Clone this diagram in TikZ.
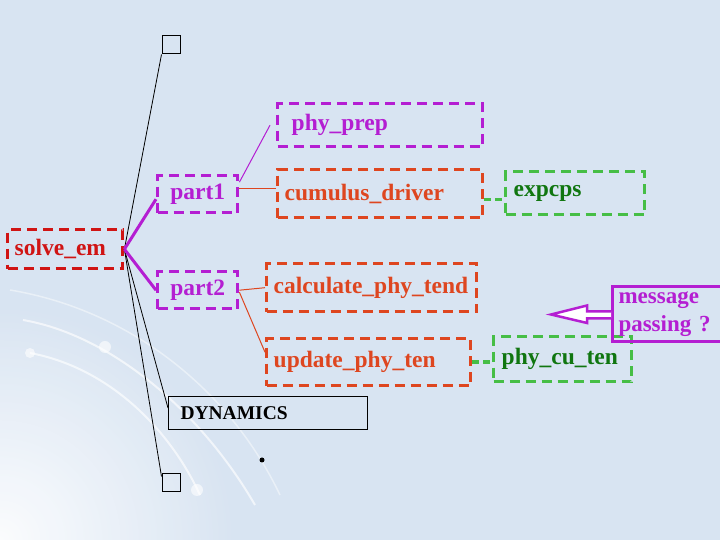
\documentclass[tikz,border=0pt]{standalone}
\usepackage{fontspec}
\setmainfont{Liberation Serif}
\definecolor{bg}{RGB}{216,228,242}
\definecolor{mag}{RGB}{180,30,210}
\definecolor{org}{RGB}{222,70,32}
\definecolor{rd}{RGB}{208,20,20}
\definecolor{grn}{RGB}{70,190,70}
\definecolor{dgrn}{RGB}{16,118,16}
\begin{document}
\begin{tikzpicture}[x=1pt,y=1pt,
  bx/.style={draw, line width=3.4pt, dash pattern=on 10pt off 6pt, anchor=north west,
    align=left, inner ysep=0pt, font=\bfseries\fontsize{23.5}{28}\selectfont},
  sq/.style={draw=black, line width=1pt, minimum size=18pt, inner sep=0pt},
  blk/.style={draw=black, line width=0.8pt},
  thinmag/.style={draw=mag, line width=1pt},
  thinorg/.style={draw=org, line width=1pt},
  thickmag/.style={draw=mag, line width=3pt},
  grnlink/.style={draw=grn, line width=3.4pt, dash pattern=on 7pt off 4pt},
  swirl/.style={draw=white, line width=2pt, opacity=0.65}
]
\fill[bg] (0,0) rectangle (720,540);
\useasboundingbox (0,0) rectangle (720,540);
% background decoration
\begin{scope}
\clip (0,0) rectangle (720,540);
\shade[inner color=white, outer color=bg, opacity=0.9] (0,0) circle (240);
\end{scope}
\draw[swirl] (23,220) .. controls (110,205) and (200,130) .. (255,35);
\draw[swirl] (30,187) .. controls (110,172) and (170,110) .. (200,45);
\draw[swirl, opacity=0.45, line width=1.5pt] (10,250) .. controls (130,230) and (230,150) .. (280,45);
\fill[white, opacity=0.6] (105,193) circle (6);
\fill[white, opacity=0.6] (30,187) circle (5);
\fill[white, opacity=0.6] (197,50) circle (6);

% nodes
\node[bx, draw=rd, text=rd, minimum height=39pt, text width=101pt, inner xsep=7pt] (solve) at (6,312) {solve\_em};
\node[bx, draw=mag, text=mag, minimum height=37pt, text width=72pt, inner xsep=4pt, align=center] (part1) at (156,366) {part1};
\node[bx, draw=mag, text=mag, minimum height=37pt, text width=72pt, inner xsep=4pt, align=center] (part2) at (156,270) {part2};
\node[bx, draw=mag, text=mag, minimum height=43pt, text width=177pt, inner xsep=14pt] (phyprep) at (276,438) {phy\_prep};
\node[bx, draw=org, text=org, minimum height=48pt, text width=191pt, inner xsep=7pt] (cumulus) at (276,372) {cumulus\_driver};
\node[bx, draw=org, text=org, minimum height=48pt, text width=196pt, inner xsep=7pt] (calc) at (265,278) {calculate\_phy\_tend};
\node[bx, draw=org, text=org, minimum height=47pt, text width=190pt, inner xsep=7pt] (update) at (265,203) {update\_phy\_ten};
\node[bx, draw=grn, text=dgrn, minimum height=43pt, text width=123pt, inner xsep=8pt] (expcps) at (504,370) {expcps};
\node[bx, draw=grn, text=dgrn, minimum height=45pt, text width=122pt, inner xsep=8pt] (phycu) at (492,205) {phy\_cu\_ten};
\node[bx, solid, draw=black, line width=1pt, text=black, minimum height=33pt, text width=175pt, inner xsep=12pt,
  font=\bfseries\fontsize{19.5}{23}\selectfont] (dyn) at (168,144) {DYNAMICS};
\node[bx, solid, draw=mag, line width=3pt, text=mag, minimum height=55pt, text width=97pt, inner xsep=6pt,
  font=\bfseries\fontsize{23}{28}\selectfont] (msg) at (611,255) {message\\\mbox{passing ?}};
\node[sq] (sq1) at (171,495) {};
\node[sq] (sq2) at (171,57) {};

% connectors
\draw[blk] (solve.east) -- (sq1.south west);
\draw[blk] (solve.east) -- ([yshift=5pt]dyn.west);
\draw[blk] (solve.east) -- ([yshift=-3pt]sq2.north west);
\draw[thickmag] (solve.east) -- ([yshift=-5pt]part1.west);
\draw[thickmag] (solve.east) -- (part2.west);
\draw[thinmag] ([yshift=12pt]part1.east) -- ([xshift=-6pt]phyprep.west);
\draw[thinorg] ([yshift=6pt]part1.east) -- ([yshift=6pt]part1.east -| cumulus.west);
\draw[thinorg] (part2.east) -- (calc.west);
\draw[thinorg] ([yshift=-2pt]part2.east) -- ([yshift=10pt]update.west);
\draw[grnlink] ([yshift=-6pt]cumulus.east) -- ([yshift=-6pt]cumulus.east -| expcps.west);
\draw[grnlink] (update.east) -- (update.east -| phycu.west);

% message arrow
\draw[draw=mag, line width=2.5pt, fill=white, line join=miter]
  ([yshift=2.5pt]msg.west) -- ++(-24,0) -- ++(0,6) -- ++(-36,-9) -- ++(36,-8.5) -- ++(0,4.5) -- ([yshift=-4.5pt]msg.west);

\fill[black] (262,80) circle (2.5);
\end{tikzpicture}
\end{document}
